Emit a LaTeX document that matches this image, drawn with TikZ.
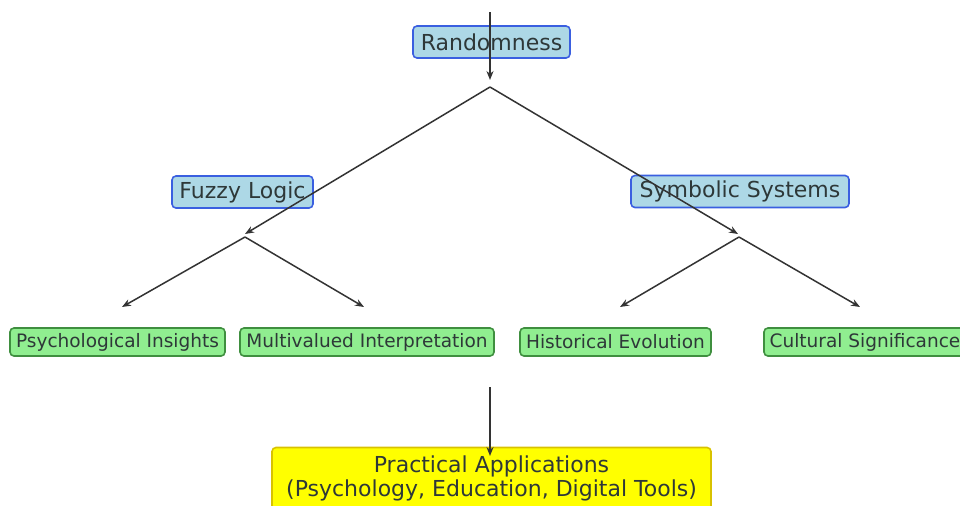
\documentclass[tikz,border=0pt]{standalone}
\usepackage{fontspec}
\setmainfont{DejaVu Sans}
\usetikzlibrary{arrows.meta}
\definecolor{topicfill}{HTML}{ADD8E6}
\definecolor{topicedge}{HTML}{3A5FE0}
\definecolor{leaffill}{HTML}{90EE90}
\definecolor{leafedge}{HTML}{3F8F3F}
\definecolor{goalfill}{HTML}{FFFF00}
\definecolor{goaledge}{HTML}{D8C200}
\definecolor{linkgray}{HTML}{333333}
\definecolor{inkdark}{HTML}{2E3838}
\begin{document}
\begin{tikzpicture}[x=0.5pt,y=-0.5pt,
  box/.style={draw, rounded corners=2pt, line width=0.8pt, inner sep=0pt,
              align=center, text=inkdark},
  topic/.style={box, fill=topicfill, draw=topicedge,
                font=\fontsize{11}{13}\selectfont, minimum height=16pt},
  leaf/.style={box, fill=leaffill, draw=leafedge,
               font=\fontsize{9.25}{11}\selectfont, minimum height=14pt},
  goal/.style={box, fill=goalfill, draw=goaledge,
               font=\fontsize{11}{12}\selectfont},
  link/.style={-{Stealth[length=4.5pt,width=3.5pt]}, line width=0.75pt, draw=linkgray}
]
\useasboundingbox (0,0) rectangle (960,505);

% boxes
\node[topic, minimum width=78.5pt] (rand) at (491.5,42) {Randomness};
\node[topic, minimum width=70.5pt] (fuzzy) at (242.5,192) {Fuzzy Logic};
\node[topic, minimum width=109pt] (symb) at (740,191.5) {Symbolic Systems};

\node[leaf, minimum width=107.5pt] (psych) at (117.5,342) {Psychological Insights};
\node[leaf, minimum width=127pt] (multi) at (367,342) {Multivalued Interpretation};
\node[leaf, minimum width=95.5pt] (hist) at (615.5,342) {Historical Evolution};
\node[leaf, minimum width=101pt] (cult) at (865,342) {Cultural Significance};

\node[goal, minimum width=219.5pt, minimum height=31pt] (apps) at (491.5,478.5)
  {Practical Applications\\(Psychology, Education, Digital Tools)};

% connector anchor points
\coordinate (inTop) at (490,12);
\coordinate (hubTop) at (490,80);
\coordinate (forkTop) at (490,87);
\coordinate (hubFuzzy) at (245,234);
\coordinate (hubSymb) at (738,234);
\coordinate (forkFuzzy) at (245,237);
\coordinate (forkSymb) at (739,237);
\coordinate (tipPsych) at (122,307);
\coordinate (tipMulti) at (364,307);
\coordinate (tipHist) at (620,307);
\coordinate (tipCult) at (860,307);
\coordinate (inApps) at (490,387);
\coordinate (tipApps) at (490,456);

% connectors
\draw[link] (inTop) -- (hubTop);
\draw[link] (forkTop) -- (hubFuzzy);
\draw[link] (forkTop) -- (hubSymb);
\draw[link] (forkFuzzy) -- (tipPsych);
\draw[link] (forkFuzzy) -- (tipMulti);
\draw[link] (forkSymb) -- (tipHist);
\draw[link] (forkSymb) -- (tipCult);
\draw[link] (inApps) -- (tipApps);
\end{tikzpicture}
\end{document}
